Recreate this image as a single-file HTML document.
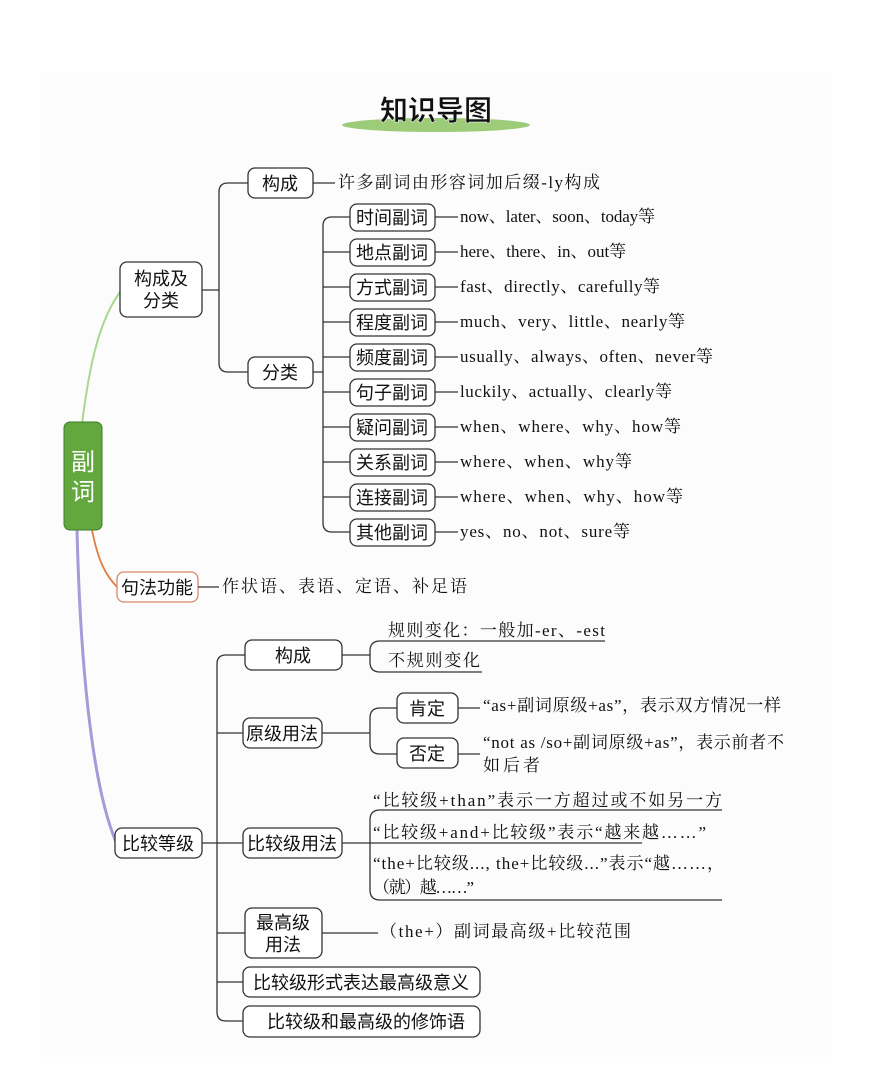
<!DOCTYPE html>
<html><head><meta charset="utf-8"><style>
body{margin:0;background:#fff}
svg{display:block}
.b{fill:#fff;stroke:#333;stroke-width:1.3}
.l{fill:none;stroke:#333;stroke-width:1.3}
.s{font-family:"Liberation Sans","Noto Sans CJK SC",sans-serif;font-size:18px;fill:#111}
.t{font-family:"Liberation Serif","Noto Serif CJK SC",serif;font-size:17px;fill:#111}
</style></head><body>
<svg width="892" height="1080" viewBox="0 0 892 1080" xmlns="http://www.w3.org/2000/svg">
<rect x="40" y="72" width="792" height="985" fill="#fcfcfc"/>
<ellipse cx="436" cy="125" rx="94" ry="7" fill="#9ccc78"/>
<text x="436" y="120" text-anchor="middle" font-family="'Liberation Sans','Noto Sans CJK SC',sans-serif" font-size="28" font-weight="bold" fill="#111" stroke="#fff" stroke-width="0.5">知识导图</text>

<path d="M82 424 C90 360 100 320 120 292" fill="none" stroke="#a8d890" stroke-width="2"/>
<path d="M92 530 C98 560 105 575 118 588" fill="none" stroke="#e07a40" stroke-width="1.8"/>
<path d="M77 530 C80 650 90 780 116 842" fill="none" stroke="#a79ad8" stroke-width="3"/>
<rect x="64" y="422" width="38" height="108" rx="6" fill="#62a83e" stroke="#3f7d2a" stroke-width="1"/>
<text x="83" y="470" text-anchor="middle" class="s" style="font-size:24px;fill:#fff">副</text>
<text x="83" y="500" text-anchor="middle" class="s" style="font-size:24px;fill:#fff">词</text>

<rect class="b" x="120" y="262" width="82" height="55" rx="7"/>
<text class="s" x="161" y="285" text-anchor="middle">构成及</text>
<text class="s" x="161" y="307" text-anchor="middle">分类</text>
<path class="l" d="M202 290 H219 M248 183 H228 Q219 183 219 192 V363 Q219 372 228 372 H248"/>
<rect class="b" x="248" y="168" width="65" height="30" rx="7"/>
<text class="s" x="280" y="190" text-anchor="middle">构成</text>
<path class="l" d="M313 183 H335"/>
<text class="t" x="338" y="188" textLength="262" lengthAdjust="spacing">许多副词由形容词加后缀-ly构成</text>
<rect class="b" x="248" y="357" width="65" height="31" rx="7"/>
<text class="s" x="280" y="379" text-anchor="middle">分类</text>
<path class="l" d="M313 372 H323 M350 217 H332 Q323 217 323 226 V523 Q323 532 332 532 H350"/>
<g>
<path class="l" d="M323 252 H350 M323 287 H350 M323 322 H350 M323 357 H350 M323 392 H350 M323 427 H350 M323 462 H350 M323 497 H350"/>
<path class="l" d="M435 217 H458 M435 252 H458 M435 287 H458 M435 322 H458 M435 357 H458 M435 392 H458 M435 427 H458 M435 462 H458 M435 497 H458 M435 532 H458"/>
<rect class="b" x="350" y="204" width="85" height="27" rx="7"/><text class="s" x="392" y="224" text-anchor="middle">时间副词</text><text class="t" x="460" y="222" textLength="195" lengthAdjust="spacing">now、later、soon、today等</text>
<rect class="b" x="350" y="239" width="85" height="27" rx="7"/><text class="s" x="392" y="259" text-anchor="middle">地点副词</text><text class="t" x="460" y="257">here、there、in、out等</text>
<rect class="b" x="350" y="274" width="85" height="27" rx="7"/><text class="s" x="392" y="294" text-anchor="middle">方式副词</text><text class="t" x="460" y="292" textLength="200" lengthAdjust="spacing">fast、directly、carefully等</text>
<rect class="b" x="350" y="309" width="85" height="27" rx="7"/><text class="s" x="392" y="329" text-anchor="middle">程度副词</text><text class="t" x="460" y="327" textLength="225" lengthAdjust="spacing">much、very、little、nearly等</text>
<rect class="b" x="350" y="344" width="85" height="27" rx="7"/><text class="s" x="392" y="364" text-anchor="middle">频度副词</text><text class="t" x="460" y="362" textLength="253" lengthAdjust="spacing">usually、always、often、never等</text>
<rect class="b" x="350" y="379" width="85" height="27" rx="7"/><text class="s" x="392" y="399" text-anchor="middle">句子副词</text><text class="t" x="460" y="397" textLength="212" lengthAdjust="spacing">luckily、actually、clearly等</text>
<rect class="b" x="350" y="414" width="85" height="27" rx="7"/><text class="s" x="392" y="434" text-anchor="middle">疑问副词</text><text class="t" x="460" y="432" textLength="221" lengthAdjust="spacing">when、where、why、how等</text>
<rect class="b" x="350" y="449" width="85" height="27" rx="7"/><text class="s" x="392" y="469" text-anchor="middle">关系副词</text><text class="t" x="460" y="467" textLength="172" lengthAdjust="spacing">where、when、why等</text>
<rect class="b" x="350" y="484" width="85" height="27" rx="7"/><text class="s" x="392" y="504" text-anchor="middle">连接副词</text><text class="t" x="460" y="502" textLength="223" lengthAdjust="spacing">where、when、why、how等</text>
<rect class="b" x="350" y="519" width="85" height="27" rx="7"/><text class="s" x="392" y="539" text-anchor="middle">其他副词</text><text class="t" x="460" y="537" textLength="170" lengthAdjust="spacing">yes、no、not、sure等</text>
</g>

<rect x="117" y="572" width="81" height="30" rx="7" fill="#fff" stroke="#d9876a" stroke-width="1.3"/>
<text class="s" x="157" y="594" text-anchor="middle">句法功能</text>
<path class="l" d="M198 587 H219"/>
<text class="t" x="222" y="592" textLength="245" lengthAdjust="spacing">作状语、表语、定语、补足语</text>

<rect class="b" x="115" y="828" width="87" height="30" rx="7"/>
<text class="s" x="158" y="850" text-anchor="middle">比较等级</text>
<path class="l" d="M202 843 H243 M245 655 H226 Q217 655 217 664 V1012 Q217 1021 226 1021 H243 M217 733 H243 M217 933 H245 M217 982 H243"/>

<rect class="b" x="245" y="640" width="97" height="30" rx="7"/>
<text class="s" x="293" y="662" text-anchor="middle">构成</text>
<path class="l" d="M342 655 H370 M605 641 H380 Q370 641 370 651 V662 Q370 672 380 672 H482"/>
<text class="t" x="388" y="636" textLength="217" lengthAdjust="spacing">规则变化：一般加-er、-est</text>
<text class="t" x="388" y="666" textLength="92" lengthAdjust="spacing">不规则变化</text>

<rect class="b" x="243" y="718" width="79" height="30" rx="7"/>
<text class="s" x="282" y="740" text-anchor="middle">原级用法</text>
<path class="l" d="M322 733 H370 M397 708 H380 Q370 708 370 718 V744 Q370 754 380 754 H397"/>
<rect class="b" x="397" y="693" width="61" height="30" rx="7"/>
<text class="s" x="427" y="715" text-anchor="middle">肯定</text>
<rect class="b" x="397" y="738" width="61" height="30" rx="7"/>
<text class="s" x="427" y="760" text-anchor="middle">否定</text>
<path class="l" d="M458 708 H480 M458 754 H480"/>
<text class="t" x="483" y="711" textLength="298" lengthAdjust="spacing">“as+副词原级+as”，表示双方情况一样</text>
<text class="t" x="483" y="748" textLength="301" lengthAdjust="spacing">“not as /so+副词原级+as”，表示前者不</text>
<text class="t" x="483" y="771" textLength="57" lengthAdjust="spacing">如后者</text>

<rect class="b" x="243" y="828" width="99" height="30" rx="7"/>
<text class="s" x="292" y="850" text-anchor="middle">比较级用法</text>
<path class="l" d="M342 843 H642 M722 810 H380 Q370 810 370 820 V890 Q370 900 380 900 H722"/>
<text class="t" x="373" y="806" textLength="349" lengthAdjust="spacing">“比较级+than”表示一方超过或不如另一方</text>
<text class="t" x="373" y="838" textLength="333" lengthAdjust="spacing">“比较级+and+比较级”表示“越来越……”</text>
<text class="t" x="373" y="869" textLength="351" lengthAdjust="spacing">“the+比较级..., the+比较级...”表示“越……，</text>
<text class="t" x="373" y="893" textLength="101" lengthAdjust="spacing">（就）越……”</text>

<rect class="b" x="245" y="908" width="77" height="50" rx="7"/>
<text class="s" x="283" y="929" text-anchor="middle">最高级</text>
<text class="s" x="283" y="951" text-anchor="middle">用法</text>
<path class="l" d="M322 933 H378"/>
<text class="t" x="380" y="937" textLength="251" lengthAdjust="spacing">（the+）副词最高级+比较范围</text>

<rect class="b" x="243" y="967" width="237" height="30" rx="7"/>
<text class="s" x="361" y="989" text-anchor="middle">比较级形式表达最高级意义</text>
<rect class="b" x="243" y="1006" width="237" height="31" rx="7"/>
<text class="s" x="366" y="1028" text-anchor="middle">比较级和最高级的修饰语</text>
</svg>
</body></html>
